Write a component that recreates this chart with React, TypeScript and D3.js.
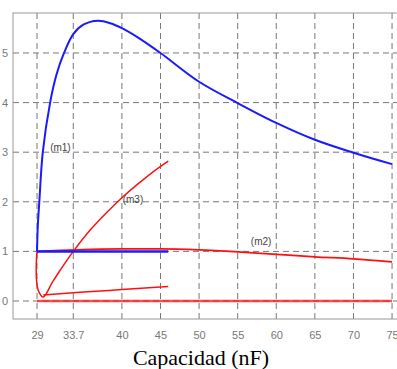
import React, {useEffect, useRef} from 'react';
import * as d3 from 'd3';

// x ticks (nF) and y ticks
const xTicks = [29, 33.7, 40, 45, 50, 55, 60, 65, 70, 75];
const yTicks = [0, 1, 2, 3, 4, 5];

// (m1) blue curve
const m1X = [29, 29.1, 29.3, 29.75, 30.7, 31.5, 32.5, 33.7, 35, 36.9, 38.5, 40, 42, 45, 50, 55, 60, 65, 70, 75];
const m1Y = [1, 1.5, 2, 3, 4, 4.55, 5, 5.38, 5.57, 5.65, 5.6, 5.5, 5.32, 5.0, 4.42, 3.99, 3.59, 3.25, 2.99, 2.76];

// blue flat segment
const blueFlatX = [29, 46];
const blueFlatY = [1, 1];

// (m2) red curve near 1
const m2X = [29, 32, 36, 40, 45, 50, 55, 60, 65, 70, 75];
const m2Y = [1.0, 1.02, 1.04, 1.05, 1.05, 1.03, 0.99, 0.94, 0.89, 0.85, 0.79];

// red curve going down from 1, then (m3) rising
const m3X = [29, 28.9, 28.95, 29.2, 29.8, 31, 32, 33.7, 36, 38, 40, 42, 44, 46];
const m3Y = [1, 0.7, 0.4, 0.2, 0.08, 0.38, 0.62, 1.0, 1.45, 1.78, 2.08, 2.35, 2.6, 2.82];

// red slowly rising lower branch
const lowX = [29.8, 35, 40, 46];
const lowY = [0.12, 0.18, 0.23, 0.29];

// red flat at zero
const zeroX = [29, 75];
const zeroY = [0, 0];

const labels = [
    {text: '(m1)', x: 30.7, y: 3.1},
    {text: '(m3)', x: 40.1, y: 2.05},
    {text: '(m2)', x: 56.7, y: 1.2},
];

export default function App() {
    const svgRef = useRef(null);

    useEffect(() => {
        const svg = d3.select(svgRef.current);
        svg.selectAll('*').remove();

        const left = 13, top = 13, right = 399, bottom = 319;
        const x = d3.scaleLinear().domain([25.89, 75.9]).range([left, right]);
        const y = d3.scaleLinear().domain([-0.363, 5.806]).range([bottom, top]);

        svg.append('rect').attr('width', 397).attr('height', 369).attr('fill', '#fff');

        // grid
        svg.append('g')
            .selectAll('line')
            .data(xTicks)
            .join('line')
            .attr('x1', d => x(d)).attr('x2', d => x(d))
            .attr('y1', top).attr('y2', bottom)
            .attr('stroke', '#777').attr('stroke-dasharray', '6,4');
        svg.append('g')
            .selectAll('line')
            .data(yTicks)
            .join('line')
            .attr('x1', left).attr('x2', right)
            .attr('y1', d => y(d)).attr('y2', d => y(d))
            .attr('stroke', '#777').attr('stroke-dasharray', '6,4');

        // box
        svg.append('rect')
            .attr('x', left).attr('y', top)
            .attr('width', right - left).attr('height', bottom - top)
            .attr('fill', 'none').attr('stroke', '#999');

        // axes
        const xAxis = d3.axisBottom(x).tickValues(xTicks).tickFormat(d => String(d)).tickSize(0).tickPadding(12);
        const gx = svg.append('g').attr('transform', `translate(0,${bottom})`).call(xAxis);
        const yAxis = d3.axisLeft(y).tickValues(yTicks).tickFormat(d => String(d)).tickSize(0).tickPadding(5);
        const gy = svg.append('g').attr('transform', `translate(${left},0)`).call(yAxis);
        [gx, gy].forEach(g => {
            g.select('.domain').remove();
            g.selectAll('text')
                .attr('fill', '#777')
                .style('font-family', 'Liberation Sans, Arial, sans-serif')
                .style('font-size', '11px');
        });

        const line = (xs, ys, curve) => d3.line()
            .x(i => x(xs[i]))
            .y(i => y(ys[i]))
            .curve(curve)(d3.range(xs.length));

        const red = '#ff1010';
        svg.append('path').attr('d', line(zeroX, zeroY, d3.curveLinear))
            .attr('fill', 'none').attr('stroke', red).attr('stroke-width', 2.5).attr('stroke-opacity', 0.75);
        svg.append('path').attr('d', line(lowX, lowY, d3.curveMonotoneX))
            .attr('fill', 'none').attr('stroke', red).attr('stroke-width', 1.5);
        svg.append('path').attr('d', line(m3X, m3Y, d3.curveCatmullRom))
            .attr('fill', 'none').attr('stroke', red).attr('stroke-width', 1.5);
        svg.append('path').attr('d', line(m2X, m2Y, d3.curveMonotoneX))
            .attr('fill', 'none').attr('stroke', red).attr('stroke-width', 1.8);

        svg.append('path').attr('d', line(blueFlatX, blueFlatY, d3.curveLinear))
            .attr('fill', 'none').attr('stroke', '#1a1aff').attr('stroke-width', 2.5);
        svg.append('path').attr('d', line(m1X, m1Y, d3.curveCatmullRom))
            .attr('fill', 'none').attr('stroke', '#1a1aff').attr('stroke-width', 2);

        svg.append('g')
            .selectAll('text')
            .data(labels)
            .join('text')
            .attr('x', d => x(d.x)).attr('y', d => y(d.y))
            .attr('dy', '0.35em')
            .attr('fill', '#444')
            .style('font-family', 'Liberation Sans, Arial, sans-serif')
            .style('font-size', '10px')
            .text(d => d.text);

        svg.append('text')
            .attr('x', 201).attr('y', 365)
            .attr('text-anchor', 'middle')
            .attr('fill', '#000')
            .style('font-family', 'Liberation Serif, Times New Roman, serif')
            .style('font-size', '22px')
            .text('Capacidad (nF)');
    }, []);

    return (
        <svg ref={svgRef} width={397} height={369} style={{position: 'absolute', left: 0, top: 0}}/>
    );
}
